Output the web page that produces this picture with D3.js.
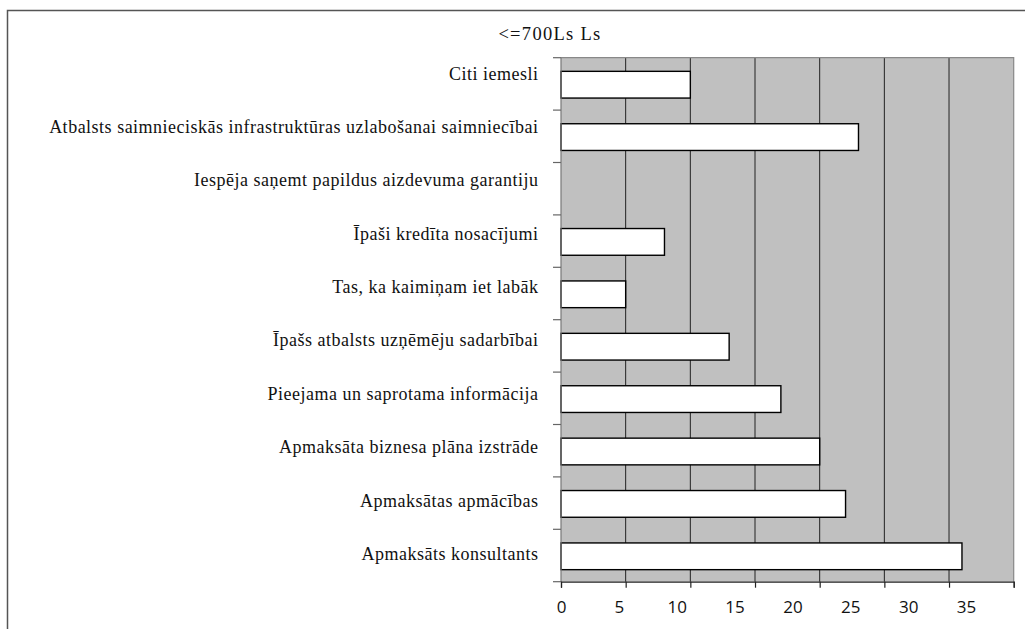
<!DOCTYPE html>
<html>
<head>
<meta charset="utf-8">
<script src="https://cdn.jsdelivr.net/npm/d3@7"></script>
<style>
  html, body { margin: 0; padding: 0; background: #fff; }
  svg { display: block; }
  .serif { font-family: "Liberation Serif", "Times New Roman", Tinos, serif; letter-spacing: 0.5px; }
  .title { letter-spacing: 1.3px; }
</style>
</head>
<body>
<svg id="chart" width="1025" height="629"></svg>
<script>
// Reasons, top to bottom, and the number of answers for each
const categories = [
  "Citi iemesli",
  "Atbalsts saimnieciskās infrastruktūras uzlabošanai saimniecībai",
  "Iespēja saņemt papildus aizdevuma garantiju",
  "Īpaši kredīta nosacījumi",
  "Tas, ka kaimiņam iet labāk",
  "Īpašs atbalsts uzņēmēju sadarbībai",
  "Pieejama un saprotama informācija",
  "Apmaksāta biznesa plāna izstrāde",
  "Apmaksātas apmācības",
  "Apmaksāts konsultants"
];
const values = [10, 23, 0, 8, 5, 13, 17, 20, 22, 31];
const xTicks = [0, 5, 10, 15, 20, 25, 30, 35];
const title = "<=700Ls Ls";

const svg = d3.select("#chart");

// outer frame (left and top edges)
svg.append("path")
  .attr("d", "M7.5,629 V10.5 H1025")
  .attr("fill", "none")
  .attr("stroke", "#555")
  .attr("stroke-width", 1.5);

const plot = { left: 561, right: 1013.7, top: 57.7, bottom: 581.7 };

const x = d3.scaleLinear().domain([0, 35]).range([plot.left, plot.right]);
// tick label positions along the axis
const xLabel = d3.scaleLinear().domain([0, 35]).range([plot.left, 966]);
const y = d3.scaleBand().domain(categories)
  .range([plot.top, plot.bottom])
  .paddingInner(0.49).paddingOuter(0.245);
// baselines of the category labels
const yLabel = d3.scalePoint().domain(categories).range([79.5, 560]);

// plot background
svg.append("rect")
  .attr("x", plot.left).attr("y", plot.top)
  .attr("width", plot.right - plot.left).attr("height", plot.bottom - plot.top)
  .attr("fill", "#c0c0c0");

// vertical gridlines
svg.append("g").selectAll("line")
  .data(xTicks.filter(d => d > 0 && d < 35))
  .join("line")
  .attr("x1", d => x(d)).attr("x2", d => x(d))
  .attr("y1", plot.top).attr("y2", plot.bottom)
  .attr("stroke", "#222").attr("stroke-width", 1);

// plot border right/top
svg.append("path")
  .attr("d", `M${plot.left},${plot.top} H${plot.right} V${plot.bottom}`)
  .attr("fill", "none").attr("stroke", "#888").attr("stroke-width", 1.2);

// bars
svg.append("g").selectAll("rect")
  .data(categories.map((c, i) => ({ c, v: values[i] })).filter(d => d.v > 0))
  .join("rect")
  .attr("x", x(0))
  .attr("y", d => y(d.c) + 0.8)
  .attr("width", d => x(d.v) - x(0))
  .attr("height", y.bandwidth())
  .attr("fill", "#fff")
  .attr("stroke", "#000")
  .attr("stroke-width", 1.4);

// left axis: line and ticks at band edges
const yEdges = categories.map(c => y(c) - y.step() * y.paddingInner() / 2);
yEdges.push(plot.bottom);
svg.append("line")
  .attr("x1", plot.left).attr("x2", plot.left)
  .attr("y1", plot.top).attr("y2", plot.bottom)
  .attr("stroke", "#777").attr("stroke-width", 1.2);
svg.append("g").selectAll("line")
  .data(yEdges)
  .join("line")
  .attr("x1", plot.left - 8).attr("x2", plot.left)
  .attr("y1", d => d).attr("y2", d => d)
  .attr("stroke", "#666").attr("stroke-width", 1.2);

// category labels
svg.append("g").selectAll("text")
  .data(categories)
  .join("text")
  .attr("class", "serif")
  .attr("x", 538.5)
  .attr("y", d => yLabel(d))
  .attr("text-anchor", "end")
  .attr("font-size", 18)
  .attr("fill", "#111")
  .text(d => d);

// bottom axis: ticks on the plot scale
const xAxis = d3.axisBottom(x).tickValues(xTicks).tickSize(6).tickFormat("");
const gx = svg.append("g")
  .attr("transform", `translate(0,${plot.bottom})`)
  .call(xAxis);
gx.select(".domain").attr("stroke", "#222").attr("stroke-width", 1.2);
gx.selectAll(".tick line").attr("stroke", "#222").attr("stroke-width", 1.2);

// bottom axis labels
const xLabelAxis = d3.axisBottom(xLabel).tickValues(xTicks).tickSize(0).tickPadding(0);
const gl = svg.append("g")
  .attr("transform", `translate(0,${plot.bottom})`)
  .call(xLabelAxis);
gl.select(".domain").remove();
gl.selectAll(".tick text")
  .attr("y", 31)
  .attr("dy", 0)
  .attr("font-family", "'Open Sans', sans-serif")
  .attr("font-size", 17)
  .attr("fill", "#111");

// title
svg.append("text")
  .attr("class", "serif title")
  .attr("x", 550).attr("y", 40)
  .attr("text-anchor", "middle")
  .attr("font-size", 18.5)
  .attr("fill", "#111")
  .text(title);
</script>
</body>
</html>
